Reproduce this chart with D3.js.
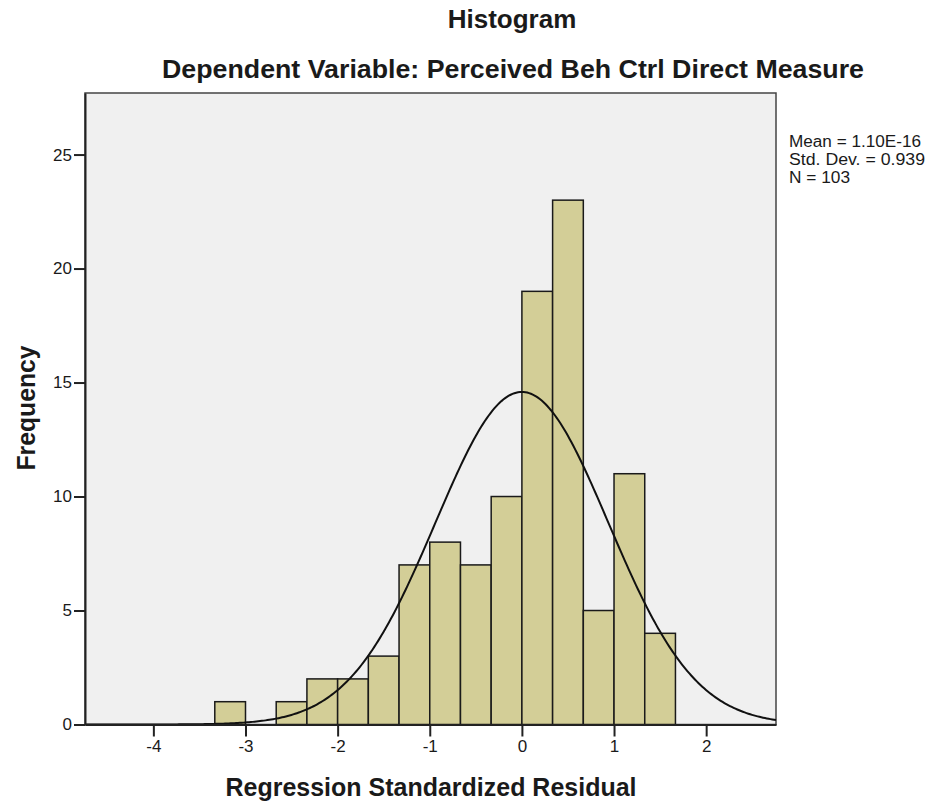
<!DOCTYPE html>
<html>
<head>
<meta charset="utf-8">
<script src="https://cdn.jsdelivr.net/npm/d3@7"></script>
<style>
  body { margin: 0; background: #fff; }
  text { font-family: "Liberation Sans", Arial, sans-serif; fill: #1a1a1a; }
</style>
</head>
<body>
<svg id="chart" width="931" height="806"></svg>
<script>
// histogram bins (lower edge) and counts
const binStarts = [-10/3, -3, -8/3, -7/3, -2, -5/3, -4/3, -1, -2/3, -1/3, 0, 1/3, 2/3, 1, 4/3];
const binWidth = 1/3;
const counts = [1, 0, 1, 2, 2, 3, 7, 8, 7, 10, 19, 23, 5, 11, 4];
const xTicks = [-4, -3, -2, -1, 0, 1, 2];
const yTicks = [0, 5, 10, 15, 20, 25];
const statLines = ["Mean = 1.10E-16", "Std. Dev. = 0.939", "N = 103"];
const mean = 0, sd = 0.939, n = 103;

const svg = d3.select("#chart");
const plotL = 85, plotR = 776, plotT = 93, plotB = 724.5;

const x = d3.scaleLinear().domain([-4.742, 2.758]).range([plotL, plotR]);
const y = d3.scaleLinear().domain([0, 27.7]).range([plotB, plotT]);

// plot background
svg.append("rect")
  .attr("x", plotL).attr("y", plotT)
  .attr("width", plotR - plotL).attr("height", plotB - plotT)
  .attr("fill", "#f0f0f0")
  .attr("stroke", "#444").attr("stroke-width", 1.5);

// bars
svg.selectAll("rect.bar")
  .data(binStarts.map((s, i) => ({ s: s, c: counts[i] })).filter(d => d.c > 0))
  .enter().append("rect")
  .attr("class", "bar")
  .attr("x", d => x(d.s))
  .attr("y", d => y(d.c))
  .attr("width", d => x(d.s + binWidth) - x(d.s))
  .attr("height", d => y(0) - y(d.c))
  .attr("fill", "#d3ce97")
  .attr("stroke", "#1a1a1a")
  .attr("stroke-width", 1.5);

// normal curve
const curvePts = d3.range(-4.742, 2.758 + 0.001, 0.02).map(v => [v,
  n * binWidth / (sd * Math.sqrt(2 * Math.PI)) * Math.exp(-0.5 * Math.pow((v - mean) / sd, 2))]);
svg.append("path")
  .datum(curvePts)
  .attr("d", d3.line().x(d => x(d[0])).y(d => y(d[1])))
  .attr("fill", "none")
  .attr("stroke", "#111")
  .attr("stroke-width", 2);

// axes
const xAxis = svg.append("g")
  .attr("transform", `translate(0,${plotB})`)
  .call(d3.axisBottom(x).tickValues(xTicks).tickFormat(d => String(d))
    .tickSize(12).tickSizeOuter(0).tickPadding(3));
const yAxis = svg.append("g")
  .attr("transform", `translate(${plotL},0)`)
  .call(d3.axisLeft(y).tickValues(yTicks).tickFormat(d => String(d))
    .tickSize(11).tickSizeOuter(0).tickPadding(2));
[xAxis, yAxis].forEach(g => {
  g.select(".domain").attr("stroke", "#222").attr("stroke-width", 2);
  g.selectAll(".tick line").attr("stroke", "#222").attr("stroke-width", 2);
  g.selectAll(".tick text").attr("font-size", 17).attr("fill", "#222")
    .style("font-family", "'Liberation Sans', Arial, sans-serif");
});

// titles
svg.append("text").attr("x", 512).attr("y", 28).attr("text-anchor", "middle")
  .attr("font-size", 26).attr("font-weight", "bold").text("Histogram");
svg.append("text").attr("x", 513).attr("y", 78).attr("text-anchor", "middle")
  .attr("font-size", 26).attr("font-weight", "bold")
  .attr("textLength", 702).attr("lengthAdjust", "spacingAndGlyphs")
  .text("Dependent Variable: Perceived Beh Ctrl Direct Measure");
svg.append("text").attr("x", 431).attr("y", 796).attr("text-anchor", "middle")
  .attr("font-size", 25).attr("font-weight", "bold")
  .attr("textLength", 411).attr("lengthAdjust", "spacingAndGlyphs")
  .text("Regression Standardized Residual");
svg.append("text").attr("transform", "translate(35,408) rotate(-90)").attr("text-anchor", "middle")
  .attr("font-size", 25).attr("font-weight", "bold")
  .attr("textLength", 125).attr("lengthAdjust", "spacingAndGlyphs")
  .text("Frequency");

// stats legend
const statWidths = [132, 136, 61];
svg.selectAll("text.stat")
  .data(statLines)
  .enter().append("text")
  .attr("class", "stat")
  .attr("x", 789)
  .attr("y", (d, i) => 146.5 + i * 18)
  .attr("font-size", 16)
  .attr("textLength", (d, i) => statWidths[i])
  .attr("lengthAdjust", "spacingAndGlyphs")
  .text(d => d);
</script>
</body>
</html>
